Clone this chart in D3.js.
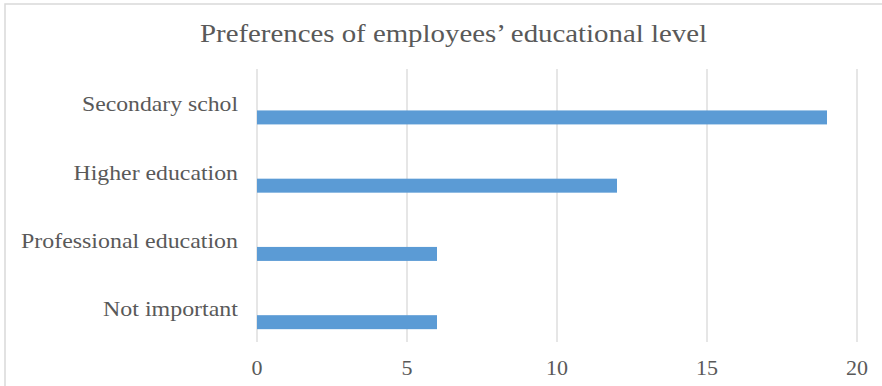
<!DOCTYPE html>
<html>
<head>
<meta charset="utf-8">
<script src="https://cdn.jsdelivr.net/npm/d3@7"></script>
<style>
  html, body { margin: 0; padding: 0; background: #fff; }
  svg { display: block; }
  text { font-family: "Liberation Serif", "Times New Roman", serif; fill: #595959; }
</style>
</head>
<body>
<svg id="chart" width="882" height="386"></svg>
<script>
const title = "Preferences of employees\u2019 educational level";
const categories = ["Secondary schol", "Higher education", "Professional education", "Not important"];
const values = [19, 12, 6, 6];
const xTicks = [0, 5, 10, 15, 20];

const svg = d3.select("#chart");
const W = 882, H = 386;
const plot = { left: 257, right: 857, top: 69, bottom: 342 };

// outer chart border (extends beyond right/bottom edge in the reference)
svg.append("rect")
  .attr("x", 5).attr("y", 4)
  .attr("width", W + 10).attr("height", H + 10)
  .attr("fill", "#fff")
  .attr("stroke", "#d9d9d9").attr("stroke-width", 1.5);

const x = d3.scaleLinear().domain([0, 20]).range([plot.left, plot.right]);
const y = d3.scaleBand().domain(categories).range([plot.top, plot.bottom]).padding(0);
const bw = y.bandwidth();

// gridlines
svg.append("g").selectAll("line").data(xTicks).join("line")
  .attr("x1", d => x(d)).attr("x2", d => x(d))
  .attr("y1", plot.top).attr("y2", plot.bottom)
  .attr("stroke", "#d9d9d9").attr("stroke-width", 1.3);

// bars
svg.append("g").selectAll("rect").data(categories).join("rect")
  .attr("x", x(0))
  .attr("y", c => y(c) + bw * 0.607)
  .attr("width", (c, i) => x(values[i]) - x(0))
  .attr("height", bw * 0.205)
  .attr("fill", "#5b9bd5");

// category labels
const labelWidths = { "Secondary schol": 156, "Higher education": 164.5, "Professional education": 217, "Not important": 135 };
svg.append("g").selectAll("text").data(categories).join("text")
  .attr("x", 238)
  .attr("y", c => y(c) + bw / 2)
  .attr("dy", "0.38em")
  .attr("text-anchor", "end")
  .attr("font-size", 22)
  .attr("textLength", c => labelWidths[c])
  .attr("lengthAdjust", "spacingAndGlyphs")
  .text(c => c);

// x tick labels
svg.append("g").selectAll("text").data(xTicks).join("text")
  .attr("x", d => x(d))
  .attr("y", 375)
  .attr("text-anchor", "middle")
  .attr("font-size", 22)
  .text(d => d);

// title
svg.append("text")
  .attr("x", 453.5).attr("y", 42)
  .attr("text-anchor", "middle")
  .attr("font-size", 26)
  .attr("textLength", 507)
  .attr("lengthAdjust", "spacingAndGlyphs")
  .text(title);
</script>
</body>
</html>
